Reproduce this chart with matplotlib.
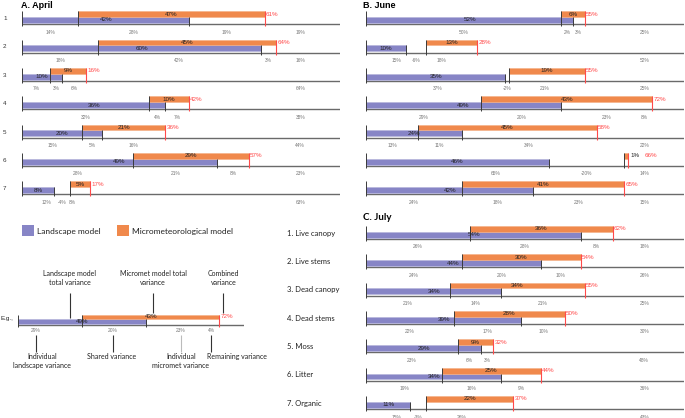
import matplotlib
matplotlib.use("Agg")
import matplotlib.pyplot as plt
from matplotlib.patches import Rectangle

plt.rcParams['font.family'] = ['Liberation Sans', 'DejaVu Sans']

# ---------------------------------------------------------------------------
# Data (percent of variance explained)
# ---------------------------------------------------------------------------
categories = ["1. Live canopy", "2. Live stems", "3. Dead canopy", "4. Dead stems",
              "5. Moss", "6. Litter", "7. Organic"]

april_land = [42, 60, 10, 36, 20, 49, 8]
april_micro = [47, 45, 9, 10, 21, 29, 5]
april_comb = [61, 64, 16, 42, 36, 57, 17]
april_parts = [[14, 28, 19, 19], [18, 42, 3, 16], [7, 3, 6, 64], [32, 4, 7, 38],
               [15, 5, 16, 44], [28, 21, 8, 23], [12, -4, 8, 63]]

june_land = [52, 10, 35, 49, 24, 46, 42]
june_micro = [6, 13, 19, 43, 45, 1, 41]
june_comb = [55, 28, 55, 72, 58, 66, 65]
june_parts = [[50, 2, 3, 25], [15, -6, 18, 52], [37, -2, 21, 25], [29, 20, 23, 8],
              [13, 11, 34, 22], [65, -20, None, 14], [24, 18, 23, 15]]

july_land = [54, 44, 34, 39, 29, 34, 11]
july_micro = [36, 30, 34, 28, 9, 25, 22]
july_comb = [62, 54, 55, 50, 32, 44, 37]
july_parts = [[26, 28, 8, 18], [24, 20, 10, 26], [21, 14, 21, 25], [22, 17, 10, 30],
              [23, 6, 3, 48], [19, 16, 9, 36], [15, -3, 26, 43]]

# schematic example (positions as drawn, not to scale)
eg_texts = ["49%", "43%", "72%"]
eg_bounds = [22.7, 45.2, 71.2]          # micromet start, landscape end, combined
eg_parts = [29, 20, 23, 4]
eg_part_x = [6.2, 33.4, 57.5, 68.2]

SCALE_END = 80
PURPLE = '#8785c6'
ORANGE = '#f0894c'
RED = '#ff4a4a'
TICK = '#3a3a3a'
AXIS = '#6a6a6a'

W, H = 685, 418
ROW_STEP = 28.35
fig = plt.figure(figsize=(W / 100, H / 100), dpi=100)


def px_axes(x0, x1, y0, y1):
    return fig.add_axes([x0 / W, 1 - y1 / H, (x1 - x0) / W, (y1 - y0) / H])


def make_panel(x0, x1, y_first, n=7, top_pad=0.8, bot_pad=0.45):
    ax = px_axes(x0, x1, y_first - top_pad * ROW_STEP, y_first + (n - 1 + bot_pad) * ROW_STEP)
    ax.set_xlim(0, SCALE_END)
    ax.set_ylim(n - 1 + bot_pad, -top_pad)
    ax.axis('off')
    return ax


def draw_row(ax, i, start, land, comb, texts, parts, part_xs, bh=0.205, part_dy=0.28):
    top_p = i - 0.05 - bh
    top_o = top_p - bh
    ax.barh(i - 0.05 - bh / 2, land, height=bh, left=0, color=PURPLE,
            edgecolor='#b4b3da', linewidth=0.4, zorder=2)
    ax.barh(top_p - bh / 2, comb - start, height=bh, left=start, color=ORANGE,
            edgecolor='#f5b085', linewidth=0.4, zorder=2)
    ax.hlines(i, 0, SCALE_END, color=AXIS, lw=1.0, zorder=1)
    ax.vlines([0, SCALE_END, start], top_o, i + 0.07, color=TICK, lw=0.7, zorder=3)
    ax.vlines(land, top_p, i + 0.07, color=TICK, lw=0.7, zorder=3)
    ax.vlines(comb, top_o, i + 0.07, color=RED, lw=0.8, zorder=3)

    ax.text(land / 2, i - 0.05 - bh / 2, texts[0], fontsize=4.5, color='#222',
            ha='center', va='center', zorder=4)
    if comb - start < 3:
        ax.text(comb + 0.5, top_p - bh / 2, texts[1], fontsize=4.5, color='#222',
                ha='left', va='center', zorder=4)
        ax.text(comb + 4.0, top_p - bh / 2, texts[2], fontsize=4.5, color=RED,
                ha='left', va='center', zorder=4)
    else:
        ax.text((start + comb) / 2, top_p - bh / 2, texts[1], fontsize=4.5, color='#222',
                ha='center', va='center', zorder=4)
        ax.text(comb + 0.3, top_p - bh / 2, texts[2], fontsize=4.5, color=RED,
                ha='left', va='center', zorder=4)

    for val, x in zip(parts, part_xs):
        if val is None:
            continue
        ax.text(x, i + part_dy, f"{val}%", fontsize=3.5, color='#777',
                ha='center', va='center')


def draw_panel(ax, land, micro, comb, parts):
    for i in range(len(land)):
        start = comb[i] - micro[i]
        xs = [start / 2, (start + land[i]) / 2, (land[i] + comb[i]) / 2, 70]
        draw_row(ax, i, start, land[i], comb[i],
                 [f"{land[i]}%", f"{micro[i]}%", f"{comb[i]}%"], parts[i], xs)


# A. April
ax_a = make_panel(22.3, 340, 24.3)
draw_panel(ax_a, april_land, april_micro, april_comb, april_parts)
for i in range(7):
    ax_a.text(-4.4, i - 0.2, str(i + 1), fontsize=4.5, color='#333',
              ha='center', va='center', clip_on=False)
fig.text(21 / W, 1 - 5 / H, "A. April", fontsize=6.5, fontweight='bold', va='center')

# B. June
ax_b = make_panel(366.3, 684, 24.3)
draw_panel(ax_b, june_land, june_micro, june_comb, june_parts)
fig.text(363 / W, 1 - 5.5 / H, "B. June", fontsize=6.5, fontweight='bold', va='center')

# C. July
ax_c = make_panel(366.3, 684, 239, bot_pad=0.3)
draw_panel(ax_c, july_land, july_micro, july_comb, july_parts)
fig.text(363 / W, 1 - 217 / H, "C. July", fontsize=7, fontweight='bold', va='center',
         family='Lato')
for i, name in enumerate(categories):
    ax_c.text(-20, i - 0.21, name, fontsize=5.5, family='Lato', color='#222',
              ha='left', va='center', clip_on=False)

# Legend
for x0, col, label in [(22, PURPLE, "Landscape model"), (117, ORANGE, "Micrometeorological model")]:
    fig.add_artist(Rectangle((x0 / W, 1 - 236 / H), 12 / W, 11 / H, transform=fig.transFigure,
                             facecolor=col, edgecolor='none'))
    fig.text((x0 + 15) / W, 1 - 231 / H, label, fontsize=6, family='Lato', color='#222',
             va='center')

# Example (schematic)
ax_e = px_axes(18.3, 244.3, 265, 372)
ax_e.set_xlim(0, SCALE_END)
ax_e.set_ylim((372 - 325) / ROW_STEP, (265 - 325) / ROW_STEP)
ax_e.axis('off')
draw_row(ax_e, 0, eg_bounds[0], eg_bounds[1], eg_bounds[2], eg_texts, eg_parts, eg_part_x,
         bh=0.16, part_dy=0.19)
ax_e.text(-1.9, -0.23, "E.g.,", fontsize=4.5, color='#222', ha='right', va='center',
          clip_on=False)

top_notes = ["Landscape model\ntotal variance", "Micromet model total\nvariance", "Combined\nvariance"]
top_x = [18.3, 47.8, 72.6]
top_end = [-0.26, -0.42, -0.42]
for txt, x, y_end in zip(top_notes, top_x, top_end):
    ax_e.vlines(x, -1.13, y_end, color='#333', lw=0.8)
    ax_e.text(x, -1.66, txt, fontsize=5, family='Lato', color='#222', ha='center',
              va='center', linespacing=1.3)

bottom_notes = ["Individual\nlandscape variance", "Shared variance",
                "Individual\nmicromet variance", "Remaining variance"]
bottom_text_x = [8.3, 33.1, 57.6, 77.5]
bottom_line_c = ['#333', '#333', '#bbbbbb', '#333']
for txt, lx, tx, c in zip(bottom_notes, eg_part_x, bottom_text_x, bottom_line_c):
    ax_e.vlines(lx, 0.35, 0.94, color=c, lw=0.8)
    ax_e.text(tx, 0.99, txt, fontsize=5, family='Lato', color='#222', ha='center',
              va='top', linespacing=1.3, clip_on=False)

fig.savefig("out.png", dpi=100)
